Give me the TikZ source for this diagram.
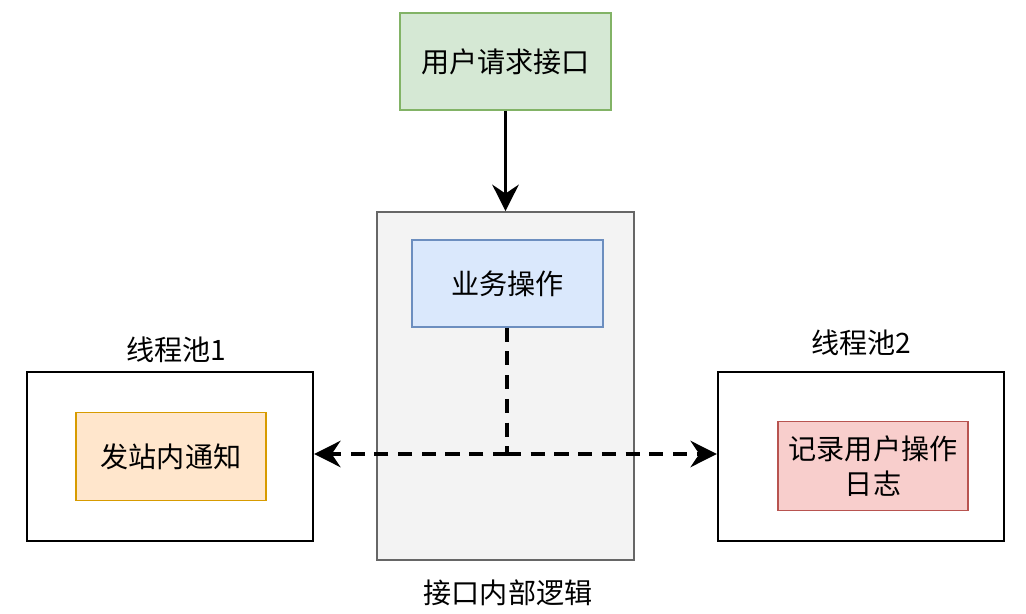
\documentclass[tikz,border=0pt]{standalone}
\usepackage{fontspec}
\setmainfont{Noto Sans CJK SC}
\usepackage{xcolor}
\usetikzlibrary{arrows.meta, positioning}

\definecolor{greenfill}{HTML}{D5E8D4}
\definecolor{greendraw}{HTML}{82B366}
\definecolor{bluefill}{HTML}{DAE8FC}
\definecolor{bluedraw}{HTML}{6C8EBF}
\definecolor{orangefill}{HTML}{FFE6CC}
\definecolor{orangedraw}{HTML}{D79B00}
\definecolor{redfill}{HTML}{F8CECC}
\definecolor{reddraw}{HTML}{B85450}
\definecolor{grayfill}{HTML}{F3F3F3}
\definecolor{graydraw}{HTML}{666666}

\begin{document}
\begin{tikzpicture}[
    box/.style={draw, rectangle, inner sep=0pt, align=center, font=\fontsize{16}{20}\selectfont},
    pool/.style={box, draw=black, line width=1.3pt, fill=white, minimum width=5.72cm, minimum height=3.38cm},
    task/.style={box, line width=0.7pt, minimum width=3.8cm, minimum height=1.77cm},
    heading/.style={font=\fontsize{16}{20}\selectfont, inner sep=0pt},
    flow/.style={line width=2.1pt, -{Stealth[length=15pt,width=15pt,inset=5pt]}},
    dashline/.style={line width=2.1pt, dash pattern=on 8pt off 5.5pt},
    async/.style={flow, dashline}
]
    \useasboundingbox (0,0) rectangle (20.52,12.26);

    % User request entry
    \node[task, fill=greenfill, draw=greendraw, minimum width=4.22cm, minimum height=1.94cm] (req) at (10.11,11.03) {用户请求接口};

    % Interface internal logic
    \node[box, fill=grayfill, draw=graydraw, line width=1pt, minimum width=5.14cm, minimum height=6.96cm] (inner) at (10.11,4.54) {};
    \node[heading] (innerlbl) at (10.16,0.40) {接口内部逻辑};
    \node[task, fill=bluefill, draw=bluedraw, minimum width=3.82cm, minimum height=1.74cm] (biz) at (10.15,6.59) {业务操作};

    % Thread pool 1
    \node[pool] (pool1) at (3.40,3.13) {};
    \node[heading] (pool1lbl) at (3.52,5.26) {线程池1};
    \node[task, fill=orangefill, draw=orangedraw] (notify) at (3.42,3.13) {发站内通知};

    % Thread pool 2
    \node[pool] (pool2) at (17.22,3.13) {};
    \node[heading] (pool2lbl) at (17.22,5.40) {线程池2};
    \node[task, fill=redfill, draw=reddraw] (log) at (17.46,2.94) {记录用户操作\\日志};

    % Request into the interface
    \draw[flow] (req) -- (inner);

    % Async hand-off to both pools
    \coordinate (split) at (10.14,3.18);
    \draw[dashline] (biz.south -| split) -- (split);
    \draw[async] (split) -- (pool1.east |- split);
    \draw[async] (split) -- (pool2.west |- split);
\end{tikzpicture}
\end{document}
